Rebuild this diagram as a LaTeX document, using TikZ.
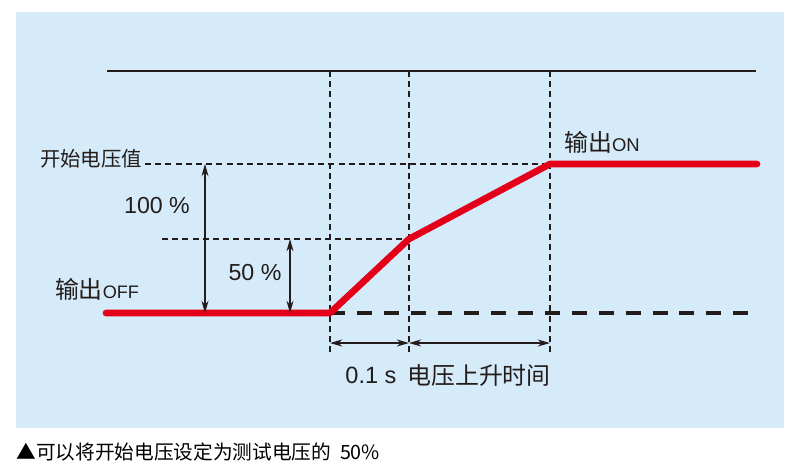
\documentclass[tikz,border=0pt]{standalone}
\usepackage{fontspec}
\setmainfont{Liberation Sans}
\newfontfamily\zhfont{Noto Sans CJK SC}
\usepackage{tikz}
\usetikzlibrary{arrows.meta,positioning,calc}
\definecolor{panelblue}{RGB}{213,235,249}
\definecolor{signalred}{RGB}{228,0,24}
\definecolor{inkgray}{RGB}{35,28,26}

\begin{document}
\begin{tikzpicture}[x=0.02cm,y=-0.02cm,
  guide/.style={inkgray,line width=0.75pt,dash pattern=on 3.4pt off 2.4pt},
  span/.style={inkgray,line width=0.75pt,{Stealth[length=7pt,width=4pt]}-{Stealth[length=7pt,width=4pt]}},
  lbl/.style={text=inkgray,inner sep=0pt}]
  \useasboundingbox (0,0) rectangle (800,470);
  \fill[panelblue] (16,12) rectangle (784,428);
  % key points of the curve
  \coordinate (off0) at (106,313);
  \coordinate (rise) at (330,313);
  \coordinate (half) at (409,239);
  \coordinate (full) at (550,164);
  \coordinate (on1) at (757,164);
  \coordinate (topL) at (107,71);
  \coordinate (topR) at (756,71);
  \coordinate (baseR) at (756,313);
  % top line and vertical guides
  \draw[inkgray,line width=1.1pt] (topL) -- (topR);
  \foreach \p in {rise,half,full}
    \draw[guide] (\p |- topL) -- ($(\p |- off0)+(0,43)$);
  \draw[guide] (145,164) -- (full);
  \draw[guide] (162,239) -- (half);
  \draw[inkgray,line width=2pt,dash pattern=on 8.5pt off 6.8pt] (rise) -- (baseR);
  % output curve
  \draw[signalred,line width=3.8pt,line cap=round,line join=round]
    (off0) -- (rise) -- (half) -- (full) -- (on1);
  % dimension arrows
  \draw[span] (205,164) -- (205,313);
  \draw[span] (290,239) -- (290,313);
  \draw[span] ($(rise)+(0,30)$) -- ($(half |- rise)+(0,30)$);
  \draw[span] ($(half |- rise)+(0,30)$) -- ($(full |- rise)+(0,30)$);
  % labels
  \node[lbl,font=\zhfont\fontsize{11.6}{13}\selectfont] (startv) at (91,159) {开始电压值};
  \node[lbl] (outoff) at (97,289)
    {{\zhfont\fontsize{13.6}{15}\selectfont 输出}{\fontsize{10.3}{12}\selectfont OFF}};
  \node[lbl] (outon) at (602,142)
    {{\zhfont\fontsize{13.6}{15}\selectfont 输出}{\fontsize{10.5}{12}\selectfont ON}};
  \node[lbl,font=\fontsize{13.2}{15}\selectfont] (pfull) at (157,206) {100 \%};
  \node[lbl,font=\fontsize{13.2}{15}\selectfont] (phalf) at (255,273) {50 \%};
  \node[lbl,font=\fontsize{13.4}{15}\selectfont] (tstep) at (371,375) {0.1 s};
  \node[lbl,font=\zhfont\fontsize{13.6}{15}\selectfont] (trise) at (479,375) {电压上升时间};
  \node[lbl,anchor=west,text=black,font=\zhfont\fontsize{11.2}{13}\selectfont] (note) at (16,452)
    {▲可以将开始电压设定为测试电压的\hspace{0.45em}50\%};
\end{tikzpicture}
\end{document}
